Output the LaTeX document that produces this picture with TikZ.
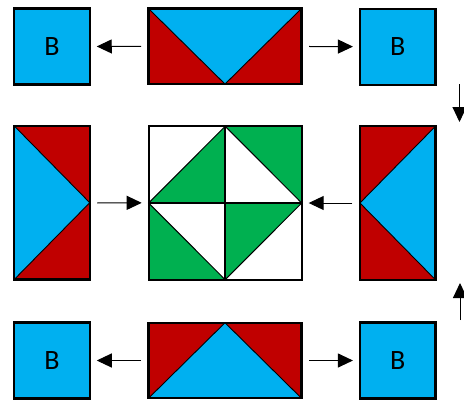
\documentclass[tikz,border=0pt]{standalone}
\usepackage{fontspec}
\setmainfont{Carlito}
\usetikzlibrary{arrows.meta}
\definecolor{qblue}{HTML}{00B0F0}
\definecolor{qred}{HTML}{C00000}
\definecolor{qgreen}{HTML}{00B050}
\begin{document}
\begin{tikzpicture}[x=1pt,y=-1pt,
  frame/.style={draw=black,line width=2.2pt,inner sep=0pt,outer sep=0pt},
  bsq/.style={frame,fill=qblue,minimum width=75.5pt,minimum height=76pt,font=\fontsize{28}{28}\selectfont},
  wide/.style={frame,fill=qred,minimum width=153pt,minimum height=75.5pt},
  tall/.style={frame,fill=qred,minimum width=75.5pt,minimum height=153.5pt},
  tri/.style={fill=qblue,draw=black,line width=0.9pt,line join=round},
  gtri/.style={fill=qgreen},
  thin/.style={draw=black,line width=1pt},
  border/.style={draw=black,line width=2.2pt},
  arr/.style={-{Triangle[length=15pt,width=14pt]},line width=1pt,shorten <=7.5pt,shorten >=7pt}]
\useasboundingbox (0,0) rectangle (464,400);

% squares B
\node[bsq] (tl) at (52,46.5) {B};
\node[bsq] (tr) at (397.7,46.7) {B};
\node[bsq] (bl) at (52,360.5) {B};
\node[bsq] (br) at (397.7,360.5) {B};

% top flying geese
\node[wide] (top) at (225,46.3) {};
\fill[tri] (top.north west) -- (top.north east) -- (top.south) -- cycle;
\draw[border] (top.north west) rectangle (top.south east);

% bottom flying geese
\node[wide] (bot) at (225,360.5) {};
\fill[tri] (bot.south west) -- (bot.south east) -- (bot.north) -- cycle;
\draw[border] (bot.north west) rectangle (bot.south east);

% left tall
\node[tall] (ml) at (52,202.7) {};
\fill[tri] (ml.north west) -- (ml.south west) -- (ml.east) -- cycle;
\draw[border] (ml.north west) rectangle (ml.south east);

% right tall
\node[tall] (mr) at (397.7,203) {};
\fill[tri] (mr.north east) -- (mr.south east) -- (mr.west) -- cycle;
\draw[border] (mr.north west) rectangle (mr.south east);

% centre block
\node[frame,fill=white,minimum width=153pt,minimum height=153.5pt] (c) at (225.2,203) {};
\fill[gtri] (c.west) -- (c.north) -- (c.center) -- cycle;
\fill[gtri] (c.north) -- (c.north east) -- (c.east) -- cycle;
\fill[gtri] (c.west) -- (c.south west) -- (c.south) -- cycle;
\fill[gtri] (c.center) -- (c.east) -- (c.south) -- cycle;
\draw[thin] (c.west) -- (c.north) -- (c.east) -- (c.south) -- cycle;
\draw[border] (c.north) -- (c.south);
\draw[border] (c.west) -- (c.east);
\draw[border] (c.north west) rectangle (c.south east);

% horizontal arrows
\draw[arr] (top) -- (tl);
\draw[arr] (top) -- (tr);
\draw[arr] (bot) -- (bl);
\draw[arr] (bot) -- (br);
\draw[arr] (ml) -- (c);
\draw[arr] (mr) -- (c);

% vertical arrows
\coordinate (d1) at (459.5,84);
\coordinate (d2) at (459.5,122);
\coordinate (u1) at (460,320);
\coordinate (u2) at (460,283);
\draw[arr,shorten <=0pt,shorten >=0pt] (d1) -- (d2);
\draw[arr,shorten <=0pt,shorten >=0pt] (u1) -- (u2);
\end{tikzpicture}
\end{document}
